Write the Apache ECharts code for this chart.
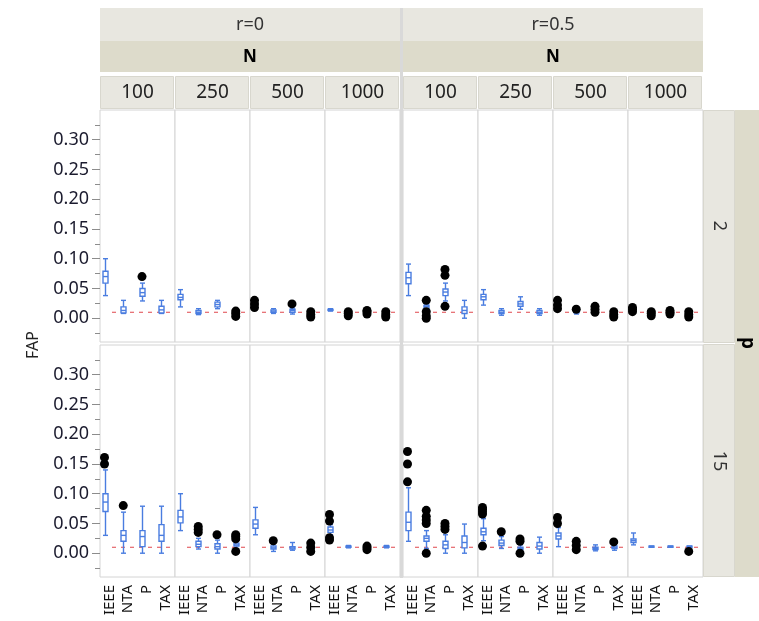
<!DOCTYPE html>
<html>
<head>
<meta charset="utf-8">
<script src="https://cdn.jsdelivr.net/npm/echarts@6/dist/echarts.min.js"></script>
<style>
  html, body { margin: 0; padding: 0; background: #fff; }
  #chart { width: 759px; height: 621px; }
</style>
</head>
<body>
<div id="chart"></div>
<script>
const methods = ['IEEE', 'NTA', 'P', 'TAX'];
const nLevels = ['100', '250', '500', '1000'];
const rLevels = ['r=0', 'r=0.5'];
const pLevels = ['2', '15'];
const yTicks = [0, 0.05, 0.10, 0.15, 0.20, 0.25, 0.30];
const yMinorTicks = [-0.025, 0.025, 0.075, 0.125, 0.175, 0.225, 0.275, 0.325];
const refFAP = 0.01;

// box = [min, q1, median, q3, max] per method (null = box hidden under the dots)
// one row per N (100, 250, 500, 1000)
const box_p2_r0 = [
  [[0.038, 0.059, 0.070, 0.079, 0.100], [0.008, 0.009, 0.013, 0.019, 0.030], [0.029, 0.037, 0.043, 0.050, 0.059], [0.008, 0.009, 0.014, 0.020, 0.030]],
  [[0.019, 0.031, 0.035, 0.040, 0.048], [0.006, 0.008, 0.010, 0.013, 0.016], [0.016, 0.019, 0.023, 0.027, 0.030], null],
  [null, [0.008, 0.010, 0.012, 0.014, 0.016], [0.007, 0.010, 0.013, 0.015, 0.017], null],
  [[0.012, 0.013, 0.014, 0.015, 0.016], null, null, null]
];
const out_p2_r0 = [
  [[], [], [0.070], []],
  [[], [], [], [0.003, 0.008, 0.012]],
  [[0.018, 0.024, 0.030], [], [0.024], [0.002, 0.006, 0.011]],
  [[], [0.004, 0.008, 0.011], [0.007, 0.011, 0.013], [0.002, 0.006, 0.011]]
];

const box_p2_r05 = [
  [[0.038, 0.058, 0.068, 0.077, 0.091], [0.015, 0.017, 0.020, 0.022, 0.024], [0.029, 0.038, 0.044, 0.049, 0.059], [0.000, 0.008, 0.013, 0.019, 0.030]],
  [[0.022, 0.031, 0.036, 0.040, 0.048], [0.005, 0.008, 0.010, 0.013, 0.016], [0.015, 0.020, 0.024, 0.028, 0.036], [0.005, 0.008, 0.010, 0.013, 0.016]],
  [null, [0.007, 0.009, 0.010, 0.012, 0.013], null, null],
  [null, null, null, null]
];
const out_p2_r05 = [
  [[], [0.000, 0.004, 0.011, 0.030], [0.020, 0.072, 0.082], []],
  [[], [], [], []],
  [[0.016, 0.022, 0.030], [0.015], [0.010, 0.015, 0.020], [0.002, 0.006, 0.011]],
  [[0.011, 0.015, 0.018], [0.004, 0.008, 0.011], [0.007, 0.010, 0.013], [0.002, 0.006, 0.011]]
];

const box_p15_r0 = [
  [[0.030, 0.070, 0.086, 0.100, 0.140], [0.000, 0.020, 0.030, 0.038, 0.069], [0.000, 0.011, 0.028, 0.038, 0.079], [0.000, 0.020, 0.030, 0.048, 0.079]],
  [[0.038, 0.051, 0.061, 0.072, 0.100], [0.007, 0.011, 0.015, 0.020, 0.025], [0.000, 0.007, 0.011, 0.016, 0.022], [0.008, 0.012, 0.014, 0.017, 0.020]],
  [[0.031, 0.042, 0.049, 0.056, 0.077], [0.003, 0.007, 0.009, 0.012, 0.016], [0.005, 0.007, 0.009, 0.011, 0.018], null],
  [[0.031, 0.035, 0.039, 0.044, 0.048], [0.009, 0.010, 0.011, 0.012, 0.013], null, [0.009, 0.010, 0.011, 0.012, 0.013]]
];
const out_p15_r0 = [
  [[0.150, 0.161], [0.080], [], []],
  [[], [0.035, 0.040, 0.045], [0.031], [0.003, 0.024, 0.028, 0.031]],
  [[], [0.021], [], [0.003, 0.010, 0.017]],
  [[0.022, 0.026, 0.054, 0.065], [], [0.006, 0.009, 0.012], []]
];

const box_p15_r05 = [
  [[0.020, 0.038, 0.052, 0.069, 0.110], [0.008, 0.020, 0.025, 0.029, 0.038], [0.000, 0.008, 0.014, 0.020, 0.031], [0.000, 0.009, 0.018, 0.029, 0.049]],
  [[0.021, 0.031, 0.036, 0.042, 0.058], [0.008, 0.013, 0.017, 0.022, 0.028], [0.004, 0.006, 0.008, 0.010, 0.014], [0.000, 0.007, 0.012, 0.018, 0.027]],
  [[0.011, 0.024, 0.029, 0.034, 0.043], null, [0.004, 0.006, 0.008, 0.010, 0.014], [0.005, 0.008, 0.010, 0.012, 0.014]],
  [[0.014, 0.018, 0.021, 0.024, 0.034], [0.010, 0.010, 0.011, 0.012, 0.012], [0.010, 0.010, 0.011, 0.012, 0.012], [0.010, 0.010, 0.011, 0.012, 0.012]]
];
const out_p15_r05 = [
  [[0.120, 0.150, 0.171], [0.000, 0.050, 0.056, 0.062, 0.072], [0.040, 0.045, 0.050], []],
  [[0.012, 0.066, 0.070, 0.074, 0.077], [0.036], [0.000, 0.020, 0.024], []],
  [[0.050, 0.060], [0.006, 0.013, 0.020], [], [0.019]],
  [[], [], [], [0.003]]
];

const rows = [
  [[box_p2_r0, out_p2_r0], [box_p2_r05, out_p2_r05]],
  [[box_p15_r0, out_p15_r0], [box_p15_r05, out_p15_r05]]
];

// layout
const panelLeft = [100, 175, 250, 325, 403, 478, 553, 628];
const panelW = 75;
const rowTop = [110, 345];
const rowH = 232;
const boxBlue = '#4a7de0';
const stripLight = '#e8e7e0';
const stripDark = '#dddbcb';
const font = 'Noto Sans';

// methods sit a bit left of the tick centre, like the original
const xPos = i => i + 0.24;

function renderBox(params, api) {
  const x = api.value(0);
  const p = [1, 2, 3, 4, 5].map(k => api.coord([x, api.value(k)]));
  const cx = Math.round(p[0][0]) + 0.5;
  const hw = 2.5;
  const st = { stroke: boxBlue, lineWidth: 1.4, fill: null };
  return {
    type: 'group',
    children: [
      { type: 'line', shape: { x1: cx, y1: p[4][1], x2: cx, y2: p[3][1] }, style: st },
      { type: 'line', shape: { x1: cx, y1: p[1][1], x2: cx, y2: p[0][1] }, style: st },
      { type: 'line', shape: { x1: cx - hw, y1: p[4][1], x2: cx + hw, y2: p[4][1] }, style: st },
      { type: 'line', shape: { x1: cx - hw, y1: p[0][1], x2: cx + hw, y2: p[0][1] }, style: st },
      { type: 'rect', shape: { x: cx - hw, y: p[3][1], width: 2 * hw, height: p[1][1] - p[3][1] },
        style: { stroke: boxBlue, lineWidth: 1.4, fill: '#fff' } },
      { type: 'line', shape: { x1: cx - hw, y1: p[2][1], x2: cx + hw, y2: p[2][1] }, style: st }
    ]
  };
}

const grids = [], xAxes = [], yAxes = [], series = [];

rows.forEach((row, ri) => {
  for (let c = 0; c < 8; c++) {
    const g = Math.floor(c / 4), n = c % 4;
    const boxes = row[g][0][n], outs = row[g][1][n];
    const gi = grids.length;
    grids.push({
      left: panelLeft[c], top: rowTop[ri], width: panelW, height: rowH,
      show: true, borderColor: '#d4d4d4', borderWidth: 1, backgroundColor: '#fff'
    });
    xAxes.push({
      type: 'category', gridIndex: gi, data: methods, show: ri === 1,
      axisLine: { show: false },
      axisTick: { alignWithLabel: true, length: 5, lineStyle: { color: '#8c8c8c' } },
      axisLabel: { rotate: 90, margin: 8, fontSize: 15, color: '#111', fontFamily: font, interval: 0 }
    });
    const vx = xAxes.length;
    xAxes.push({ type: 'value', gridIndex: gi, min: 0, max: 4, show: false });

    const yi = yAxes.length;
    yAxes.push({
      type: 'value', gridIndex: gi, min: -0.04, max: 0.35, position: 'left',
      show: c === 0,
      axisLine: { show: false },
      splitLine: { show: false },
      axisTick: { customValues: yTicks, length: 8, lineStyle: { color: '#8c8c8c' } },
      axisLabel: { customValues: yTicks, formatter: v => v.toFixed(2), fontSize: 18, margin: 11,
        color: '#1b1b2e', fontFamily: font }
    });
    if (c === 0) {
      yAxes.push({
        type: 'value', gridIndex: gi, min: -0.04, max: 0.35, position: 'left',
        axisLine: { show: false }, splitLine: { show: false },
        axisTick: { customValues: yMinorTicks, length: 5, lineStyle: { color: '#8c8c8c' } },
        axisLabel: { show: false }
      });
    }

    series.push({
      type: 'line', xAxisIndex: vx, yAxisIndex: yi, symbol: 'none', silent: true, z: 1,
      data: [[0.64, refFAP], [4, refFAP]],
      lineStyle: { color: '#e0474c', width: 1, type: [4, 5] }
    });
    const boxData = [];
    boxes.forEach((b, i) => { if (b) boxData.push([xPos(i)].concat(b)); });
    series.push({
      type: 'custom', xAxisIndex: vx, yAxisIndex: yi, z: 2,
      encode: { x: 0, y: [1, 2, 3, 4, 5] },
      renderItem: renderBox, data: boxData
    });
    const dots = [];
    outs.forEach((list, i) => list.forEach(v => dots.push([xPos(i), v])));
    series.push({
      type: 'scatter', xAxisIndex: vx, yAxisIndex: yi, z: 3,
      symbolSize: 9, itemStyle: { color: '#000', opacity: 1 }, data: dots
    });
  }
});

// strips round the trellis
const graphic = [];
[100, 403].forEach((x0, g) => {
  graphic.push({ type: 'rect', shape: { x: x0, y: 8, width: 300, height: 33 }, style: { fill: stripLight } });
  graphic.push({ type: 'rect', shape: { x: x0, y: 41, width: 300, height: 31 }, style: { fill: stripDark } });
  graphic.push({ type: 'text', x: x0 + 150, y: 25,
    style: { text: rLevels[g], fill: '#333', font: '18px "Noto Sans"', align: 'center', verticalAlign: 'middle' } });
  graphic.push({ type: 'text', x: x0 + 150, y: 57,
    style: { text: 'N', fill: '#000', font: 'bold 17px "Noto Sans"', align: 'center', verticalAlign: 'middle' } });
});
panelLeft.forEach((x0, c) => {
  graphic.push({ type: 'rect', shape: { x: x0 + 0.5, y: 76.5, width: panelW - 2, height: 32 },
    style: { fill: stripLight, stroke: '#d8d7ce', lineWidth: 1 } });
  graphic.push({ type: 'text', x: x0 + panelW / 2, y: 93,
    style: { text: nLevels[c % 4], fill: '#222', font: '19px "Noto Sans"', align: 'center', verticalAlign: 'middle' } });
});
graphic.push({ type: 'rect', shape: { x: 400, y: 8, width: 3, height: 570 }, style: { fill: '#d9d9d9' } });
graphic.push({ type: 'rect', shape: { x: 735, y: 110, width: 24, height: 467 }, style: { fill: stripDark } });
rowTop.forEach((y0, ri) => {
  const top = ri === 0 ? 110 : 344;
  graphic.push({ type: 'rect', shape: { x: 703.5, y: top + 0.5, width: 31, height: 232 },
    style: { fill: stripLight, stroke: '#d8d7ce', lineWidth: 1 } });
  graphic.push({ type: 'text', x: 719, y: y0 + 116, rotation: -Math.PI / 2,
    style: { text: pLevels[ri], fill: '#333', font: '18px "Noto Sans"', align: 'center', verticalAlign: 'middle' } });
});
graphic.push({ type: 'text', x: 747, y: 343, rotation: -Math.PI / 2,
  style: { text: 'p', fill: '#000', font: 'bold 19px "Noto Sans"', align: 'center', verticalAlign: 'middle' } });
graphic.push({ type: 'text', x: 33, y: 345, rotation: Math.PI / 2,
  style: { text: 'FAP', fill: '#222', font: '16px "Noto Sans"', align: 'center', verticalAlign: 'middle' } });

const chart = echarts.init(document.getElementById('chart'), null, { renderer: 'canvas' });
chart.setOption({
  animation: false,
  backgroundColor: '#fff',
  grid: grids,
  xAxis: xAxes,
  yAxis: yAxes,
  series: series,
  graphic: graphic
});
</script>
</body>
</html>
